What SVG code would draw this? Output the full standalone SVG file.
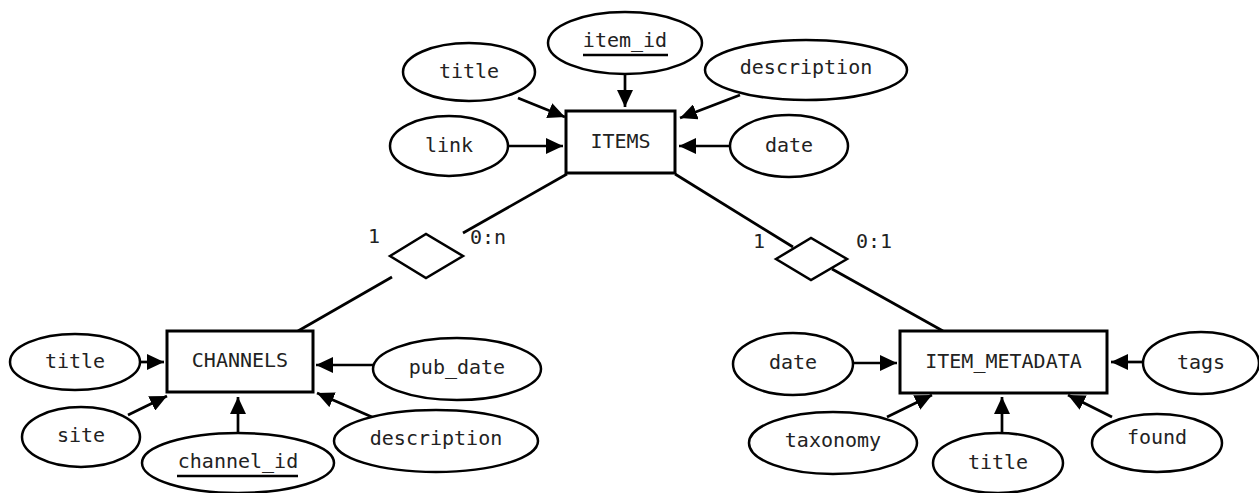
<svg xmlns="http://www.w3.org/2000/svg" width="1259" height="493" viewBox="0 0 1259 493">
<style>
  .ent rect { fill: #fff; stroke: #000; stroke-width: 3; }
  .attr ellipse { fill: #fff; stroke: #000; stroke-width: 2.5; }
  text { font-family: "DejaVu Sans Mono", "Liberation Mono", monospace; font-size: 20px; fill: #222; text-anchor: middle; }
  .ul { stroke: #000; stroke-width: 2.5; }
  #connectors line { stroke: #000; stroke-width: 2.7; }
  #connectors .arr { marker-end: url(#ah); }
  .rel polygon { fill: #fff; stroke: #000; stroke-width: 2.5; }
  .card { text-anchor: start; }
</style>
<defs>
  <marker id="ah" markerUnits="userSpaceOnUse" markerWidth="18" markerHeight="16" refX="17" refY="8" orient="auto">
    <path d="M0,0 L17,8 L0,16 z" fill="#000"/>
  </marker>
</defs>
<rect width="1259" height="493" fill="#fff"/>

<g id="connectors">
  <line class="arr" x1="625" y1="75" x2="625" y2="107"/>
  <line class="arr" x1="518" y1="98" x2="565" y2="117"/>
  <line class="arr" x1="740" y1="95" x2="680" y2="118"/>
  <line class="arr" x1="508" y1="146" x2="563" y2="146"/>
  <line class="arr" x1="730" y1="146" x2="679" y2="146"/>

  <line x1="567" y1="174" x2="463" y2="233"/>
  <line x1="392" y1="277" x2="298" y2="331"/>
  <line x1="675" y1="174" x2="793" y2="247"/>
  <line x1="832" y1="269" x2="943" y2="331"/>

  <line class="arr" x1="140" y1="362" x2="164" y2="362"/>
  <line class="arr" x1="128" y1="415" x2="167" y2="396"/>
  <line class="arr" x1="238" y1="433" x2="238" y2="397"/>
  <line class="arr" x1="373" y1="365" x2="316" y2="365"/>
  <line class="arr" x1="372" y1="417" x2="317" y2="393"/>

  <line class="arr" x1="853" y1="363" x2="897" y2="363"/>
  <line class="arr" x1="887" y1="417" x2="932" y2="395"/>
  <line class="arr" x1="1002" y1="432" x2="1002" y2="397"/>
  <line class="arr" x1="1143" y1="362" x2="1111" y2="362"/>
  <line class="arr" x1="1112" y1="417" x2="1068" y2="395"/>
</g>

<g id="rel-channels-items" class="rel">
  <polygon points="390,256 426,234 463,256 426,278"/>
  <text class="card" x="368" y="243">1</text>
  <text class="card" x="470" y="244">0:n</text>
</g>
<g id="rel-items-metadata" class="rel">
  <polygon points="776,259 811,238 847,259 811,280"/>
  <text class="card" x="753" y="248">1</text>
  <text class="card" x="856" y="248">0:1</text>
</g>

<g id="items" class="ent"><rect x="566" y="111" width="109" height="62"/><text x="620.5" y="148">ITEMS</text></g>
<g id="items-item_id" class="attr"><ellipse cx="625" cy="43" rx="77" ry="31"/><text x="625" y="47">item_id</text><line class="ul" x1="583" y1="55" x2="668" y2="55"/></g>
<g id="items-title" class="attr"><ellipse cx="469" cy="72" rx="66" ry="29"/><text x="469" y="78">title</text></g>
<g id="items-description" class="attr"><ellipse cx="806" cy="70" rx="101" ry="30"/><text x="806" y="74">description</text></g>
<g id="items-link" class="attr"><ellipse cx="449" cy="146" rx="59" ry="30"/><text x="449" y="152">link</text></g>
<g id="items-date" class="attr"><ellipse cx="789" cy="146" rx="59" ry="31"/><text x="789" y="152">date</text></g>

<g id="channels" class="ent"><rect x="167" y="331" width="146" height="61"/><text x="240" y="367">CHANNELS</text></g>
<g id="channels-title" class="attr"><ellipse cx="75" cy="362" rx="65" ry="28"/><text x="75" y="368">title</text></g>
<g id="channels-site" class="attr"><ellipse cx="81" cy="437" rx="59" ry="30"/><text x="81" y="442">site</text></g>
<g id="channels-channel_id" class="attr"><ellipse cx="238" cy="463" rx="96" ry="30"/><text x="238" y="468">channel_id</text><line class="ul" x1="177" y1="476" x2="298" y2="476"/></g>
<g id="channels-pub_date" class="attr"><ellipse cx="457" cy="369" rx="84" ry="31"/><text x="457" y="374">pub_date</text></g>
<g id="channels-description" class="attr"><ellipse cx="436" cy="441" rx="102" ry="31"/><text x="436" y="445">description</text></g>

<g id="item_metadata" class="ent"><rect x="900" y="331" width="207" height="62"/><text x="1003.5" y="368">ITEM_METADATA</text></g>
<g id="meta-date" class="attr"><ellipse cx="793" cy="364" rx="60" ry="31"/><text x="793" y="369">date</text></g>
<g id="meta-taxonomy" class="attr"><ellipse cx="833" cy="443" rx="84" ry="31"/><text x="833" y="447">taxonomy</text></g>
<g id="meta-title" class="attr"><ellipse cx="998" cy="463" rx="65" ry="30"/><text x="998" y="469">title</text></g>
<g id="meta-tags" class="attr"><ellipse cx="1201" cy="363" rx="58" ry="31"/><text x="1201" y="369">tags</text></g>
<g id="meta-found" class="attr"><ellipse cx="1157" cy="443" rx="65" ry="29"/><text x="1157" y="444">found</text></g>
</svg>
